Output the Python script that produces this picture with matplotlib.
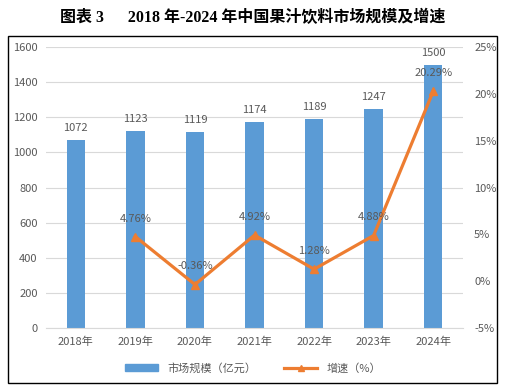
import matplotlib
matplotlib.use("Agg")
from matplotlib import pyplot as plt
from matplotlib.patches import Rectangle
from matplotlib.lines import Line2D
from matplotlib.ticker import FuncFormatter

plt.rcParams['font.family'] = ['Noto Sans CJK SC', 'DejaVu Sans']

# Data
years = ['2018年', '2019年', '2020年', '2021年', '2022年', '2023年', '2024年']
market_size = [1072, 1123, 1119, 1174, 1189, 1247, 1500]
growth_years = years[1:]
growth = [4.76, -0.36, 4.92, 1.28, 4.88, 20.29]

bar_color = '#5B9BD5'
line_color = '#ED7D31'
text_gray = '#595959'

fig = plt.figure(figsize=(5.06, 3.9), dpi=100)
ax = fig.add_axes([0.091, 0.159, 0.824, 0.72])

# outer frame
fig.patches.append(Rectangle((8 / 506, 1 - 383 / 390), 489 / 506, 347 / 390,
                             transform=fig.transFigure, fill=False,
                             edgecolor='black', linewidth=1.0))

fig.text(0.5, 1 - 18 / 390, '图表 3      2018 年-2024 年中国果汁饮料市场规模及增速',
         ha='center', va='center', fontsize=11.5, fontweight='bold',
         family=['Liberation Serif', 'Noto Sans CJK SC'])

x = list(range(len(years)))
bars = ax.bar(x, market_size, width=0.31, color=bar_color, zorder=2)
for xi, v in zip(x, market_size):
    ax.text(xi, v + 40, str(v), ha='center', va='bottom', fontsize=8, color=text_gray)

ax.set_ylim(0, 1600)
ax.set_yticks(range(0, 1601, 200))
ax.set_xlim(-0.5, len(years) - 0.5)
ax.set_xticks(x)
ax.set_xticklabels(years)
ax.grid(axis='y', color='#D9D9D9', linewidth=0.8, zorder=0)
ax.tick_params(axis='both', length=0, labelsize=8, labelcolor=text_gray, pad=6)
for s in ax.spines.values():
    s.set_visible(False)
ax.spines['bottom'].set_visible(True)
ax.spines['bottom'].set_color('#D9D9D9')

ax2 = ax.twinx()
gx = [years.index(y) for y in growth_years]
ax2.plot(gx, growth, color=line_color, linewidth=2.3, marker='^', markersize=6, zorder=3)
for xi, v in zip(gx, growth):
    ax2.text(xi, v + 1.4, f'{v:.2f}%', ha='center', va='bottom', fontsize=8, color=text_gray)
ax2.set_ylim(-5, 25)
ax2.set_yticks(range(-5, 26, 5))
ax2.yaxis.set_major_formatter(FuncFormatter(lambda v, p: f'{int(v)}%'))
ax2.tick_params(axis='y', length=0, labelsize=8, labelcolor=text_gray, pad=8)
for s in ax2.spines.values():
    s.set_visible(False)

handles = [Rectangle((0, 0), 1, 1, color=bar_color),
           Line2D([0], [0], color=line_color, linewidth=2.3, marker='^', markersize=5)]
fig.legend(handles, ['市场规模（亿元）', '增速（%）'], loc='center',
           bbox_to_anchor=(0.5, 1 - 368 / 390), ncol=2, frameon=False,
           fontsize=8, labelcolor=text_gray, handlelength=3, handleheight=0.5,
           columnspacing=2.5)

fig.savefig('out.png', dpi=100)
